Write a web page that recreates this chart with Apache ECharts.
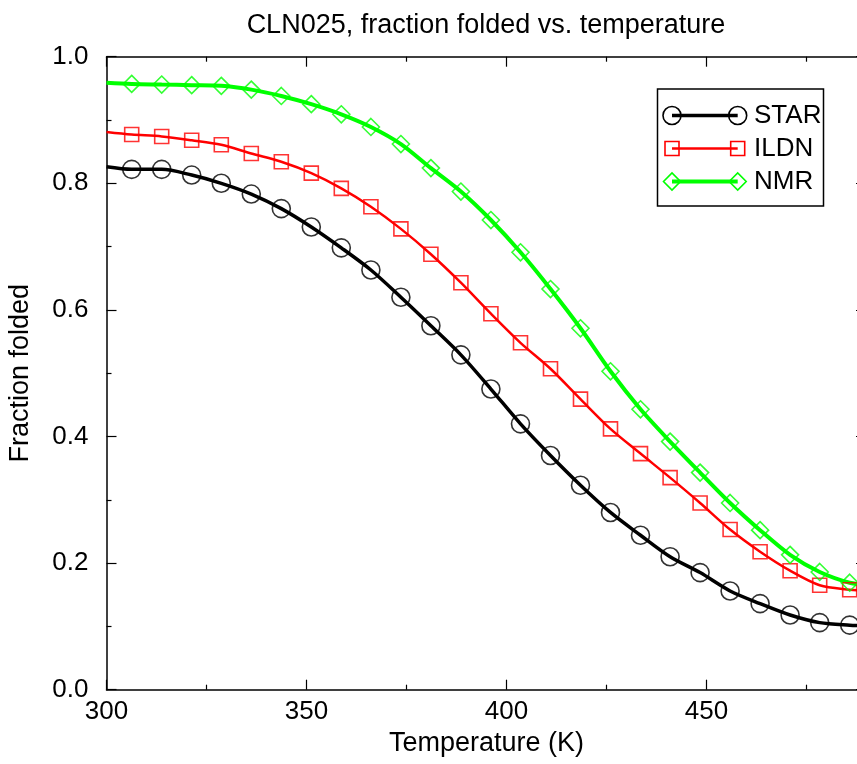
<!DOCTYPE html>
<html>
<head>
<meta charset="utf-8">
<title>CLN025, fraction folded vs. temperature</title>
<script src="https://cdn.jsdelivr.net/npm/echarts@6/dist/echarts.min.js"></script>
<style>
    html, body { margin: 0; padding: 0; background: #fff; }
    #main { width: 857px; height: 764px; }
</style>
</head>
<body>
<div id="main"></div>
<script type="text/javascript">
    // replica temperatures (K)
    var temps = [306.3, 313.8, 321.3, 328.7, 336.2, 343.7, 351.2, 358.7, 366.1, 373.6, 381.1, 388.6, 396.1,
                 403.5, 411.0, 418.5, 426.0, 433.5, 440.9, 448.4, 455.9, 463.4, 470.9, 478.3, 485.8];
    var star = [0.822, 0.822, 0.813, 0.800, 0.783, 0.760, 0.731, 0.698, 0.663, 0.620, 0.575, 0.529, 0.475,
                0.420, 0.370, 0.323, 0.280, 0.244, 0.210, 0.185, 0.156, 0.136, 0.118, 0.106, 0.102];
    var ildn = [0.877, 0.874, 0.868, 0.861, 0.847, 0.834, 0.816, 0.792, 0.763, 0.728, 0.688, 0.643, 0.594,
                0.548, 0.507, 0.459, 0.412, 0.373, 0.335, 0.295, 0.253, 0.218, 0.188, 0.165, 0.158];
    var nmr = [0.957, 0.956, 0.955, 0.954, 0.948, 0.938, 0.925, 0.909, 0.889, 0.862, 0.824, 0.787, 0.742,
               0.691, 0.633, 0.571, 0.503, 0.443, 0.392, 0.343, 0.295, 0.252, 0.213, 0.186, 0.169];
    // fitted curves run out to the frame edges
    var edgeT = [300, 490];
    var starEdge = [0.826, 0.101];
    var ildnEdge = [0.881, 0.156];
    var nmrEdge = [0.959, 0.166];

    var FONT = "'Liberation Sans', Arial, sans-serif";

    function points(ys) {
        return temps.map(function (t, i) { return [t, ys[i]]; });
    }
    function curve(ys, edge) {
        return [[edgeT[0], edge[0]]].concat(points(ys), [[edgeT[1], edge[1]]]);
    }

    var sets = [
        { name: 'STAR', ys: star, edge: starEdge, color: '#000000', lw: 3.5, symbol: 'circle', size: 18 },
        { name: 'ILDN', ys: ildn, edge: ildnEdge, color: '#ff0000', lw: 2.5, symbol: 'rect', size: 14 },
        { name: 'NMR', ys: nmr, edge: nmrEdge, color: '#00ff00', lw: 4, symbol: 'diamond', size: 17 }
    ];

    var series = [];
    sets.forEach(function (s) {
        series.push({
            name: s.name, type: 'line', data: curve(s.ys, s.edge),
            showSymbol: false, smooth: 0.3,
            lineStyle: { color: s.color, width: s.lw }, z: 2, silent: true
        });
        series.push({
            name: s.name, type: 'scatter', data: points(s.ys),
            symbol: s.symbol, symbolSize: s.size,
            itemStyle: { color: 'transparent', borderColor: s.color, borderWidth: 1.6 }, z: 3
        });
    });

    // gnuplot style key: line with a marker at each end
    var graphic = [{
        type: 'rect', shape: { x: 657.5, y: 89, width: 166, height: 117 },
        style: { fill: '#fff', stroke: '#000', lineWidth: 1.5 }, z: 10
    }];
    sets.forEach(function (s, i) {
        var y = 115.5 + i * 33;
        graphic.push({ type: 'line', shape: { x1: 672, y1: y, x2: 737.7, y2: y },
            style: { stroke: s.color, lineWidth: s.lw }, z: 11 });
        [672, 737.7].forEach(function (x) {
            var mk = { style: { fill: 'none', stroke: s.color, lineWidth: 1.6 }, z: 12 };
            if (s.symbol === 'circle') { mk.type = 'circle'; mk.shape = { cx: x, cy: y, r: 9 }; }
            else if (s.symbol === 'rect') { mk.type = 'rect'; mk.shape = { x: x - 7, y: y - 7, width: 14, height: 14 }; }
            else { mk.type = 'polygon'; mk.shape = { points: [[x - 8.5, y], [x, y - 8.5], [x + 8.5, y], [x, y + 8.5]] }; }
            graphic.push(mk);
        });
        graphic.push({ type: 'text', z: 12,
            style: { text: s.name, x: 754, y: y, font: '26px ' + FONT, fill: '#000',
                     verticalAlign: 'middle', textVerticalAlign: 'middle' } });
    });

    var axisLine = { onZero: false, lineStyle: { color: '#000', width: 1.5 } };
    var tick = { inside: true, length: 10, lineStyle: { color: '#000', width: 1.2 } };
    var minor = { show: true, splitNumber: 2, length: 5, lineStyle: { color: '#000', width: 1.2 } };

    var chart = echarts.init(document.getElementById('main'), null, { renderer: 'canvas' });
    var option = {
        animation: false,
        backgroundColor: '#fff',
        textStyle: { fontFamily: FONT },
        title: {
            text: 'CLN025, fraction folded vs. temperature',
            left: 486, top: 12, textAlign: 'center', padding: 0,
            textStyle: { fontFamily: FONT, fontSize: 27, fontWeight: 'normal', color: '#000' }
        },
        grid: { left: 106.5, top: 56.7, right: -49.5, bottom: 74.3, containLabel: false, outerBoundsMode: 'none' },
        xAxis: [{
            type: 'value', position: 'bottom', min: 300, max: 500, interval: 50,
            name: 'Temperature (K)', nameLocation: 'middle', nameGap: 34,
            nameTextStyle: { fontFamily: FONT, fontSize: 27, color: '#000', padding: [0, 40, 0, 0] },
            axisLine: axisLine, axisTick: tick, minorTick: minor,
            splitLine: { show: false }, minorSplitLine: { show: false },
            axisLabel: { fontFamily: FONT, fontSize: 26, color: '#000', margin: 9, showMaxLabel: false }
        }, {
            type: 'value', position: 'top', min: 300, max: 500, interval: 50,
            axisLine: axisLine, axisTick: tick, minorTick: minor,
            splitLine: { show: false }, axisLabel: { show: false }
        }],
        yAxis: [{
            type: 'value', position: 'left', min: 0, max: 1, interval: 0.2,
            name: 'Fraction folded', nameLocation: 'middle', nameGap: 72,
            nameTextStyle: { fontFamily: FONT, fontSize: 27, color: '#000' },
            axisLine: axisLine, axisTick: tick, minorTick: minor,
            splitLine: { show: false }, minorSplitLine: { show: false },
            axisLabel: { fontFamily: FONT, fontSize: 26, color: '#000', margin: 18,
                formatter: function (v) { return v.toFixed(1); } }
        }, {
            type: 'value', position: 'right', offset: -40.5, min: 0, max: 1, interval: 0.2,
            axisLine: axisLine, axisTick: tick, minorTick: minor,
            splitLine: { show: false }, axisLabel: { show: false }
        }],
        graphic: graphic,
        series: series
    };
    chart.setOption(option);
</script>
</body>
</html>
